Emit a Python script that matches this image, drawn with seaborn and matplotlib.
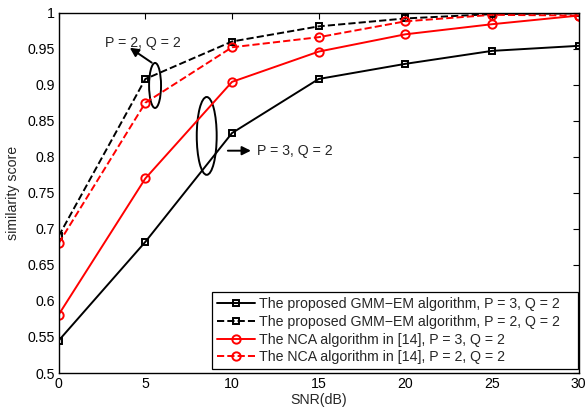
import matplotlib
matplotlib.use("Agg")
import matplotlib.pyplot as plt
from matplotlib.patches import Ellipse
import seaborn as sns
import pandas as pd

snr = [0, 5, 10, 15, 20, 25, 30]
gmm_p3 = [0.545, 0.682, 0.833, 0.908, 0.929, 0.947, 0.954]
gmm_p2 = [0.690, 0.908, 0.960, 0.981, 0.992, 0.998, 0.999]
nca_p3 = [0.581, 0.770, 0.904, 0.946, 0.970, 0.984, 0.996]
nca_p2 = [0.680, 0.875, 0.952, 0.966, 0.988, 0.997, 0.996]
labels = [
    "The proposed GMM\u2212EM algorithm, P = 3, Q = 2",
    "The proposed GMM\u2212EM algorithm, P = 2, Q = 2",
    "The NCA algorithm in [14], P = 3, Q = 2",
    "The NCA algorithm in [14], P = 2, Q = 2",
]
xticks = [0, 5, 10, 15, 20, 25, 30]
yticks = [0.5, 0.55, 0.6, 0.65, 0.7, 0.75, 0.8, 0.85, 0.9, 0.95, 1.0]
ytick_labels = ["0.5", "0.55", "0.6", "0.65", "0.7", "0.75", "0.8", "0.85", "0.9", "0.95", "1"]

sns.set_style("white")
plt.rcParams['font.family'] = ['Liberation Sans', 'DejaVu Sans']
FS = 10.2
plt.rcParams['font.size'] = FS

fig = plt.figure(figsize=(5.88, 4.09), dpi=100)
ax = fig.add_axes([0.0998, 0.088, 0.8844, 0.881])

series = [
    (gmm_p3, "black", "-", "s", 5),
    (gmm_p2, "black", "--", "s", 5),
    (nca_p3, "red", "-", "o", 6),
    (nca_p2, "red", "--", "o", 6),
]
for (vals, col, ls, mk, ms), lab in zip(series, labels):
    df = pd.DataFrame({"SNR": snr, "score": vals})
    kw = {}
    if ls == "--":
        kw["dashes"] = (4.2, 3.0)
    sns.lineplot(data=df, x="SNR", y="score", ax=ax, color=col, linestyle=ls,
                 marker=mk, markersize=ms, markerfacecolor="none",
                 markeredgecolor=col, markeredgewidth=1.4, linewidth=1.4,
                 label=lab, **kw)

ax.set_xlim(0, 30)
ax.set_ylim(0.5, 1.0)
ax.set_xticks(xticks)
ax.set_yticks(yticks)
ax.set_yticklabels(ytick_labels)
ax.tick_params(direction="in", top=True, right=True, length=4, width=0.8,
               labelsize=FS, colors="black", pad=3)
for s in ax.spines.values():
    s.set_color("black")
    s.set_linewidth(1.0)
ax.set_xlabel("SNR(dB)", fontsize=FS, labelpad=1)
ax.set_ylabel("similarity score", fontsize=FS, labelpad=5)

# annotations
ax.add_patch(Ellipse((5.56, 0.899), 0.69, 0.0625, fill=False, edgecolor="black", linewidth=1.4))
ax.annotate("", xy=(3.97, 0.9535), xytext=(5.5, 0.9285),
            arrowprops=dict(arrowstyle="-|>", color="black", lw=1.4, mutation_scale=13))
ax.text(4.87, 0.958, "P = 2, Q = 2", ha="center", va="center", fontsize=FS)

ax.add_patch(Ellipse((8.54, 0.829), 1.15, 0.108, fill=False, edgecolor="black", linewidth=1.4))
ax.annotate("", xy=(11.25, 0.8085), xytext=(9.6, 0.8085),
            arrowprops=dict(arrowstyle="-|>", color="black", lw=1.4, mutation_scale=13))
ax.text(11.42, 0.8085, "P = 3, Q = 2", ha="left", va="center", fontsize=FS)

leg = ax.legend(loc="lower left", bbox_to_anchor=(0.294, 0.0103, 0.705, 0.2), mode="expand",
                frameon=True, fancybox=False, edgecolor="black", framealpha=1, fontsize=FS,
                handlelength=2.7, handletextpad=0.3, borderpad=0.35,
                labelspacing=0.26, borderaxespad=0.0, numpoints=1)
leg.get_frame().set_linewidth(0.9)

fig.savefig("out.png", dpi=100)
